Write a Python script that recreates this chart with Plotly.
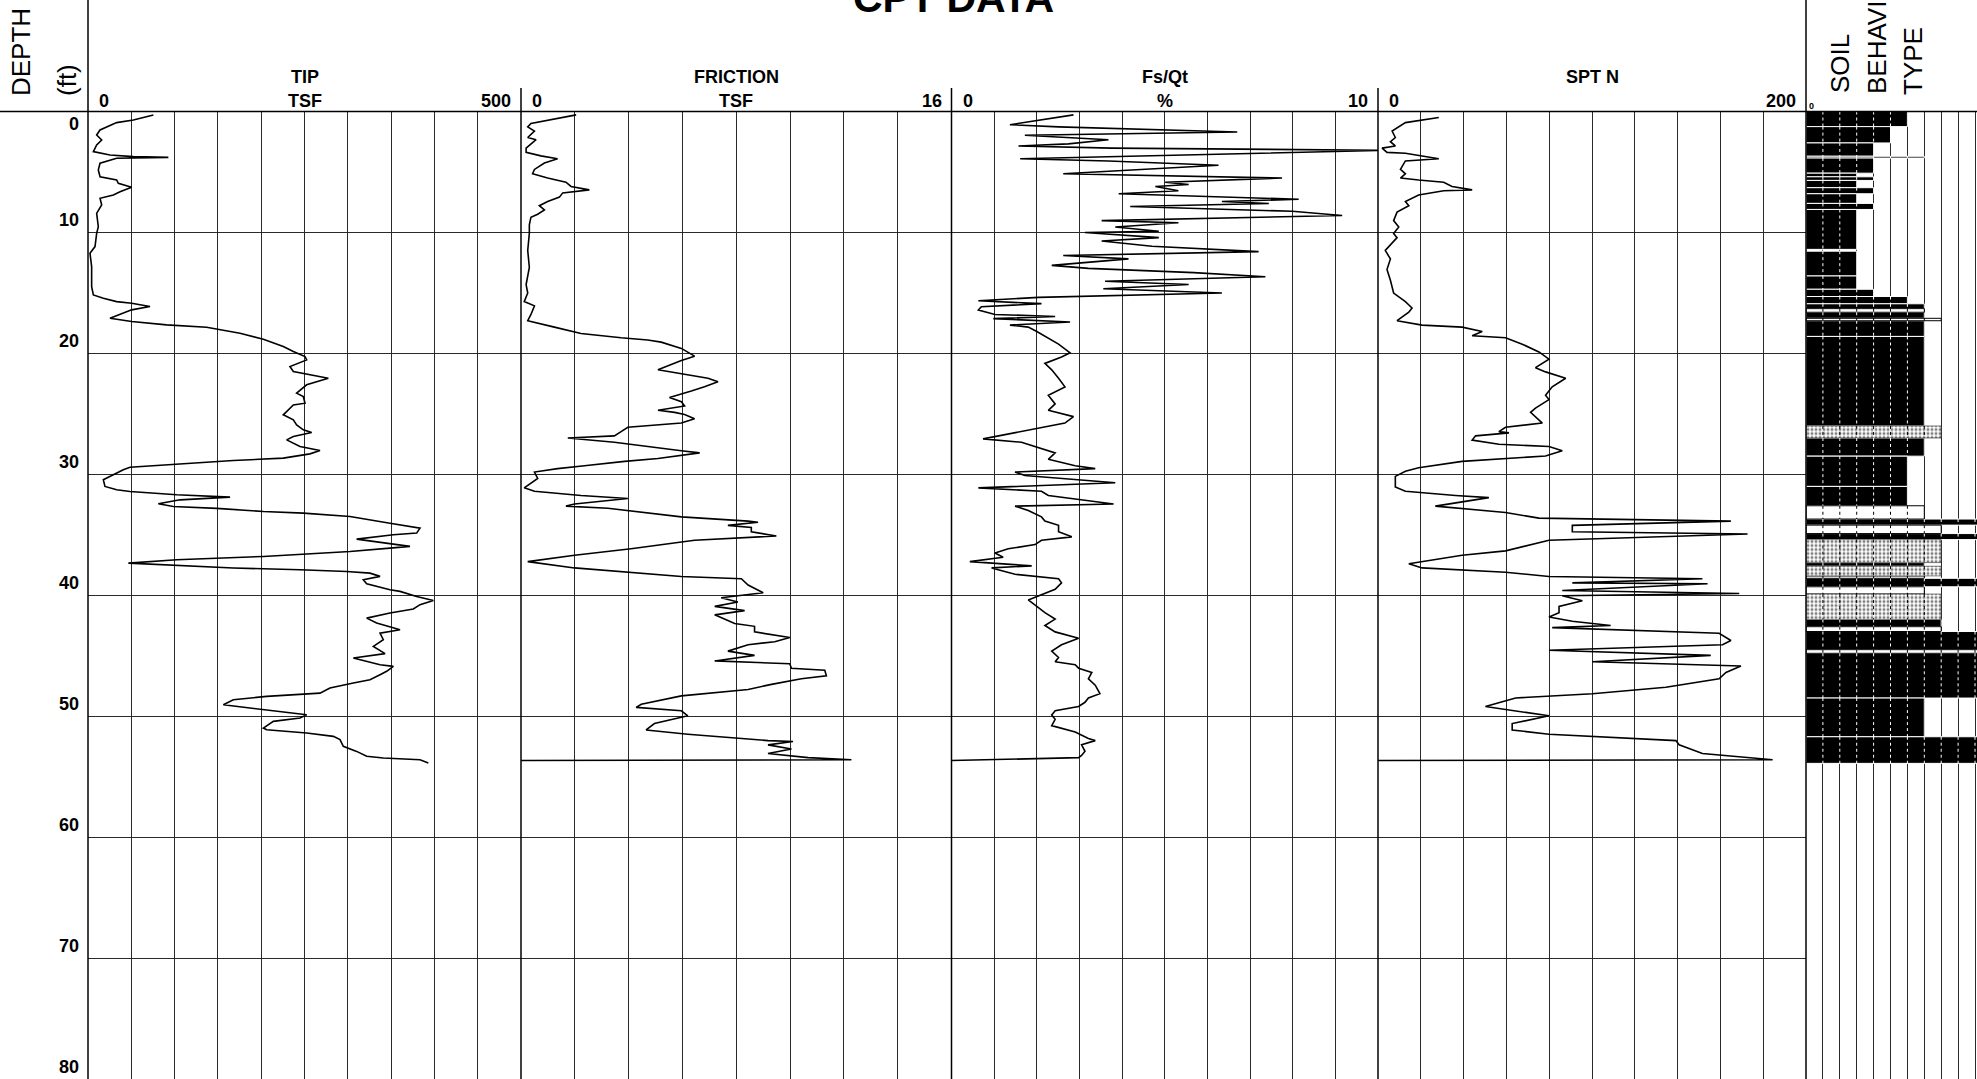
import plotly.graph_objects as go

# ---------------------------------------------------------------- data
TIP_DEPTH = [0.29, 0.70, 0.92, 1.53, 1.94, 2.36, 2.77, 3.32, 3.60, 3.73, 3.79, 3.87, 4.28, 4.83, 5.39,
             5.66, 5.94, 6.27, 6.63, 6.90, 7.18, 7.73, 8.42, 9.52, 10.07, 11.17, 11.72, 12.82, 14.48,
             15.17, 15.44, 15.72, 15.85, 16.13, 16.40, 17.09, 17.37, 17.64, 17.84, 18.33, 18.83, 19.44,
             19.85, 20.26, 20.54, 21.09, 21.50, 22.05, 22.60, 23.29, 23.57, 24.12, 24.26, 25.08, 25.50,
             25.91, 26.32, 26.54, 26.87, 27.15, 27.70, 28.03, 28.31, 28.66, 28.86, 29.21, 29.41, 29.63,
             30.04, 30.45, 31.00, 31.28, 31.42, 31.69, 31.89, 32.11, 32.44, 32.66, 32.82, 33.07, 33.21,
             33.49, 34.04, 34.45, 34.86, 35.00, 35.36, 35.69, 35.96, 36.10, 36.38, 36.79, 37.07, 37.34,
             37.53, 37.75, 37.89, 38.03, 38.17, 38.44, 38.72, 39.05, 39.55, 39.68, 40.10, 40.43, 40.78,
             41.14, 41.47, 41.89, 42.30, 42.85, 43.13, 43.68, 44.23, 44.83, 45.19, 45.47, 45.74, 45.88,
             46.29, 46.57, 46.98, 47.26, 47.67, 48.09, 48.36, 48.64, 49.05, 49.33, 49.88, 50.15, 50.43,
             50.98, 51.12, 51.39, 51.67, 51.94, 52.49, 52.91, 53.32, 53.46, 53.60, 53.87]
TIP_TSF = [75.5, 52.4, 33.1, 13.9, 10.0, 15.8, 10.0, 6.2, 25.4, 52.4, 92.8, 33.1, 13.9, 11.9, 13.9,
           33.1, 35.0, 50.4, 37.0, 29.3, 13.9, 15.8, 10.0, 11.9, 10.0, 8.1, 2.3, 4.2, 4.2,
           6.2, 17.7, 33.1, 50.4, 71.6, 50.4, 25.4, 50.4, 90.8, 137.0, 175.5, 202.5, 225.5,
           237.1, 250.6, 252.5, 233.2, 237.1, 277.5, 252.5, 240.9, 248.6, 250.6, 237.1, 225.5, 237.1,
           240.9, 248.6, 258.3, 237.1, 229.4, 244.8, 267.9, 256.3, 225.5, 167.8, 90.8, 48.5, 40.8,
           29.3, 17.7, 19.6, 33.1, 48.5, 102.4, 164.0, 106.2, 81.2, 98.5, 148.6, 202.5, 248.6,
           302.5, 348.7, 383.4, 379.5, 352.6, 310.2, 341.0, 371.8, 348.7, 302.5, 202.5, 102.4, 46.6,
           102.4, 167.8, 244.8, 298.7, 325.6, 337.2, 317.9, 321.8, 348.7, 360.3, 379.5, 398.8, 383.4,
           375.7, 348.7, 321.8, 333.3, 360.3, 337.2, 341.0, 329.5, 343.0, 306.4, 321.8, 337.2, 352.6,
           344.9, 337.2, 325.6, 306.4, 279.4, 267.9, 206.3, 167.8, 156.3, 187.0, 252.5, 244.8, 214.0,
           202.5, 206.3, 252.5, 283.3, 291.0, 294.8, 310.2, 321.8, 341.0, 383.4, 393.0]

FRIC_DEPTH = [0.28, 0.99, 1.27, 1.62, 2.15, 2.33, 3.03, 3.38, 3.67, 3.91, 4.26, 4.79, 5.15, 5.50, 5.85,
              6.20, 6.48, 6.73, 7.08, 7.44, 7.79, 8.14, 8.49, 8.74, 9.37, 10.08, 11.49, 12.90, 14.31,
              15.01, 15.72, 16.07, 16.78, 17.30, 17.83, 18.36, 18.71, 18.89, 19.07, 19.59, 20.23, 20.58,
              21.36, 21.71, 22.06, 22.34, 22.77, 23.12, 23.65, 24.00, 24.35, 24.70, 24.88, 25.06, 25.41,
              25.76, 26.11, 26.47, 26.82, 27.00, 27.35, 28.05, 28.23, 28.69, 28.93, 29.29, 29.53, 29.81,
              30.34, 31.12, 31.40, 31.75, 32.00, 32.46, 32.63, 32.81, 32.99, 33.52, 33.87, 33.97, 34.22,
              34.40, 34.75, 35.10, 35.45, 36.16, 36.69, 37.22, 37.74, 38.45, 38.63, 39.15, 39.79, 40.21,
              40.56, 40.92, 41.27, 41.62, 42.33, 42.57, 43.03, 43.49, 43.84, 44.09, 44.62, 44.97, 45.43,
              45.67, 46.03, 46.20, 46.66, 46.91, 47.37, 47.79, 48.32, 48.67, 49.02, 49.27, 49.55, 49.97,
              50.61, 51.14, 51.49, 52.02, 52.09, 52.37, 52.72, 53.08, 53.43, 53.60, 53.67]
FRIC_TSF = [2.05, 0.37, 0.25, 0.50, 0.25, 0.56, 0.19, 0.19, 0.74, 1.36, 0.87, 0.50, 0.43, 0.99, 1.67,
            1.86, 2.54, 1.55, 1.43, 0.99, 0.68, 0.87, 0.62, 0.37, 0.31, 0.31, 0.25, 0.31, 0.19,
            0.25, 0.12, 0.50, 0.37, 0.25, 1.24, 2.23, 3.72, 4.71, 5.21, 5.96, 6.45, 5.96,
            5.09, 5.96, 6.95, 7.32, 6.82, 6.33, 5.52, 5.96, 6.08, 5.09, 5.71, 6.08, 6.45,
            5.96, 3.97, 3.72, 3.47, 1.74, 3.47, 5.96, 6.64, 5.09, 3.85, 2.36, 1.36, 0.50,
            0.62, 0.12, 0.50, 2.23, 3.97, 1.99, 1.67, 3.23, 3.97, 5.96, 8.44, 8.81, 7.69,
            8.56, 8.56, 9.49, 6.45, 4.09, 1.99, 0.25, 1.99, 5.96, 8.19, 8.44, 9.00, 7.44,
            8.06, 7.20, 8.31, 7.20, 7.94, 8.68, 8.68, 9.99, 9.43, 8.44, 7.69, 8.68, 7.20,
            9.99, 10.05, 11.29, 11.35, 10.42, 9.31, 8.44, 5.96, 5.21, 4.47, 4.28, 5.96, 6.20,
            4.96, 4.65, 6.20, 9.18, 10.11, 9.18, 10.05, 9.18, 10.67, 12.28, 0.0]

RATIO_DEPTH = [0.28, 1.09, 1.27, 1.69, 1.97, 2.33, 2.68, 2.85, 3.03, 3.21, 3.91, 4.09, 4.44, 4.79, 5.15,
               5.50, 5.85, 6.03, 6.20, 6.55, 6.80, 7.26, 7.44, 7.61, 7.86, 8.25, 8.60, 9.02, 9.20,
               9.55, 9.90, 10.01, 10.43, 10.71, 11.14, 11.59, 11.91, 12.19, 12.48, 12.72, 12.97, 13.32,
               13.67, 14.03, 14.31, 14.66, 15.01, 15.37, 15.65, 15.89, 16.14, 16.42, 16.78, 16.95, 17.13,
               17.41, 17.66, 17.83, 18.19, 18.71, 19.24, 19.95, 20.30, 20.83, 21.36, 22.06, 22.77, 23.47,
               24.18, 24.71, 25.23, 25.76, 26.29, 26.64, 27.07, 27.35, 27.88, 28.23, 28.76, 29.29, 29.53,
               29.81, 30.10, 30.34, 30.70, 31.12, 31.40, 31.75, 32.11, 32.46, 32.63, 32.99, 33.52, 33.87,
               34.22, 34.75, 35.17, 35.45, 35.81, 36.16, 36.51, 36.86, 37.22, 37.57, 37.74, 38.27, 38.63,
               38.98, 39.51, 40.04, 40.39, 40.92, 41.44, 41.97, 42.50, 43.03, 43.56, 44.09, 44.62, 45.15,
               45.50, 45.74, 46.03, 46.38, 46.91, 47.44, 48.14, 48.49, 48.85, 49.20, 49.55, 49.90, 50.26,
               50.78, 51.31, 51.84, 52.02, 52.37, 52.90, 53.25, 53.43, 53.67]
RATIO_PCT = [2.86, 1.37, 2.51, 6.70, 1.72, 3.68, 2.74, 1.57, 3.76, 10.18, 1.61, 3.68, 6.26, 4.31, 2.62,
             7.75, 5.01, 5.56, 4.78, 5.32, 3.92, 8.14, 6.34, 7.44, 4.19, 7.99, 9.16, 3.52, 5.32,
             3.84, 4.86, 3.13, 4.86, 3.52, 4.70, 7.20, 2.62, 4.15, 3.05, 2.35, 3.21, 5.68,
             7.36, 3.60, 5.56, 3.56, 6.34, 2.04, 0.63, 2.11, 0.70, 0.63, 1.02, 2.43, 0.98,
             2.78, 1.37, 1.80, 2.00, 2.27, 2.51, 2.78, 2.58, 2.19, 2.35, 2.51, 2.66, 2.27,
             2.43, 2.27, 2.86, 2.66, 1.88, 1.41, 0.74, 1.64, 2.15, 2.43, 2.27, 2.90, 3.37,
             1.49, 1.72, 2.51, 3.84, 0.63, 2.11, 2.27, 3.05, 3.80, 1.49, 1.80, 2.11, 2.19,
             2.51, 2.51, 2.82, 2.11, 1.96, 1.33, 1.02, 1.21, 0.43, 1.88, 0.94, 1.49, 2.51,
             2.58, 2.43, 2.04, 1.80, 2.00, 2.19, 2.43, 2.19, 2.43, 2.98, 2.58, 2.35, 2.51,
             2.43, 2.90, 2.98, 3.29, 3.21, 3.37, 3.48, 3.21, 3.13, 2.98, 2.43, 2.35, 2.43,
             2.35, 2.90, 3.21, 3.37, 3.05, 3.13, 3.05, 2.98, 0.0]

SPT_DEPTH = [0.49, 0.92, 1.62, 2.15, 2.50, 2.85, 3.03, 3.38, 3.45, 3.91, 4.09, 4.79, 5.15, 5.50, 5.67,
             5.85, 6.20, 6.48, 6.55, 6.91, 7.44, 7.79, 8.32, 9.02, 9.55, 10.08, 10.43, 11.49, 12.19,
             13.07, 13.96, 15.01, 15.72, 16.25, 16.60, 17.30, 17.66, 17.83, 18.19, 18.54, 18.71, 19.24,
             19.88, 20.48, 21.18, 21.53, 22.06, 22.77, 23.47, 23.82, 24.53, 24.88, 25.76, 26.11, 26.47,
             26.57, 26.82, 27.17, 27.52, 27.70, 28.05, 28.48, 28.93, 29.46, 29.74, 30.17, 31.05, 31.40,
             31.75, 31.93, 32.63, 33.16, 33.62, 33.87, 34.22, 34.75, 34.93, 35.45, 36.33, 36.69, 37.39,
             37.74, 38.10, 38.45, 38.63, 38.98, 39.05, 39.61, 39.86, 40.04, 40.46, 40.92, 41.44, 41.80,
             42.15, 42.50, 42.68, 43.14, 43.74, 44.09, 44.55, 44.97, 45.50, 45.85, 46.38, 46.91, 47.61,
             48.14, 48.49, 49.20, 49.97, 50.61, 51.14, 51.49, 52.02, 52.37, 53.08, 53.43, 53.60, 53.67]
SPT_N = [28.4, 12.8, 6.6, 8.1, 5.8, 8.1, 1.9, 4.2, 12.8, 28.4, 12.8, 10.5, 12.8, 10.5, 19.0,
         30.7, 34.6, 44.0, 30.7, 19.0, 12.8, 14.4, 8.9, 7.3, 9.7, 7.3, 8.9, 3.4, 5.8,
         4.2, 5.8, 7.3, 12.8, 15.9, 14.4, 8.9, 20.6, 39.3, 48.7, 44.0, 59.6, 67.4,
         75.2, 79.9, 73.6, 78.3, 87.7, 81.4, 78.3, 79.9, 73.6, 71.3, 76.8, 59.6, 56.5,
         61.2, 45.6, 44.0, 56.5, 79.9, 86.1, 78.3, 39.3, 19.0, 12.8, 8.1, 8.1, 12.8,
         36.2, 51.8, 26.8, 59.6, 75.2, 164.9, 90.8, 90.8, 172.7, 79.9, 59.6, 39.3, 14.4,
         20.6, 59.6, 79.9, 151.6, 90.8, 154.0, 86.1, 168.8, 86.1, 95.5, 84.6, 84.6, 79.9,
         90.8, 108.7, 81.4, 159.4, 164.9, 161.0, 79.9, 155.5, 100.2, 169.6, 162.6, 159.4, 134.5,
         100.2, 64.3, 50.2, 79.9, 62.7, 62.7, 79.9, 139.2, 140.7, 151.6, 173.5, 184.4, 0.0]

# soil behaviour type log: layer top, layer base, zone number, fill style
SBT_TOP = [0.0, 1.25, 2.6, 3.7, 3.85, 5.1, 5.4, 5.7, 6.3, 6.8, 7.6, 8.1, 11.55, 13.6, 14.7, 15.3, 15.9,
           16.3, 16.6, 17.1, 17.3, 18.6, 26.0, 27.0, 28.5, 31.0, 32.6, 33.7, 34.2, 34.9, 35.4, 37.3,
           37.6, 38.4, 38.6, 39.3, 39.9, 42.0, 42.6, 43.0, 44.5, 44.8, 48.5, 51.7]
SBT_BASE = [1.25, 2.6, 3.7, 3.85, 5.1, 5.4, 5.7, 6.3, 6.8, 7.6, 8.1, 11.4, 13.6, 14.7, 15.3, 15.9, 16.3,
            16.6, 17.1, 17.3, 18.6, 26.0, 27.0, 28.5, 31.0, 32.6, 33.7, 34.2, 34.9, 35.4, 37.3, 37.6,
            38.4, 38.6, 39.3, 39.9, 42.0, 42.6, 43.0, 44.5, 44.8, 48.5, 51.7, 53.9]
SBT_ZONE = [6, 5, 4, 7, 4, 3, 4, 3, 4, 3, 4, 3, 3, 3, 4, 6, 7,
            7, 7, 8, 7, 7, 8, 7, 6, 6, 7, 12, 8, 12, 8, 7,
            8, 7, 12, 7, 8, 8, 8, 12, 12, 12, 7, 12]
SBT_FILL = ["solid", "solid", "solid", "solid", "solid", "solid", "solid", "solid", "solid", "solid",
            "solid", "solid", "solid", "solid", "solid", "solid", "solid",
            "blank", "solid", "blank", "solid", "solid", "speckle", "solid", "solid", "solid", "blank",
            "solid", "blank", "solid", "speckle", "solid",
            "speckle", "blank", "solid", "blank", "speckle", "solid", "blank", "solid", "blank", "solid",
            "solid", "solid"]

DEPTH_TICKS = [0, 10, 20, 30, 40, 50, 60, 70, 80]

# ---------------------------------------------------------------- layout geometry
W, H = 1977, 1079
FONT = "Liberation Sans, Arial, sans-serif"
GRID = "#2a2a2a"
Y_TOP = 111.5                       # pixel row of depth 0
EDGES = [88, 521, 951.5, 1378, 1806, 1977]
SBT_RANGE = (1977 - 1806) / 16.9   # visible width of the soil column in zone units


def fx(px):
    return px / W


def fy(py):
    return 1 - py / H


tracks = [
    dict(depth=TIP_DEPTH, val=TIP_TSF, rng=[0, 500], dtick=50),
    dict(depth=FRIC_DEPTH, val=FRIC_TSF, rng=[0, 16], dtick=2),
    dict(depth=RATIO_DEPTH, val=RATIO_PCT, rng=[0, 10], dtick=1),
    dict(depth=SPT_DEPTH, val=SPT_N, rng=[0, 200], dtick=20),
]

fig = go.Figure()
layout = {}
for i in range(5):
    s = "" if i == 0 else str(i + 1)
    if i < 4:
        rng, dtick = tracks[i]["rng"], tracks[i]["dtick"]
    else:
        rng, dtick = [0, SBT_RANGE], 1
    layout["xaxis" + s] = dict(domain=[fx(EDGES[i]), fx(EDGES[i + 1])], range=rng, dtick=dtick, tick0=0,
                               showgrid=True, gridcolor=GRID, gridwidth=1, zeroline=False,
                               showline=False, showticklabels=False, ticks="", anchor="y" + s,
                               fixedrange=True)
    layout["yaxis" + s] = dict(domain=[0, fy(Y_TOP)], range=[80, 0], dtick=10, tick0=0,
                               showgrid=(i < 4), gridcolor=GRID, gridwidth=1, zeroline=False,
                               showline=False, showticklabels=False, ticks="", anchor="x" + s,
                               fixedrange=True)

for i, t in enumerate(tracks):
    s = "" if i == 0 else str(i + 1)
    fig.add_trace(go.Scatter(x=t["val"], y=t["depth"], mode="lines", xaxis="x" + s, yaxis="y" + s,
                             line=dict(color="black", width=1.6), hoverinfo="skip", showlegend=False))

# ---------------------------------------------------------------- soil behaviour type column
styles = {
    "solid": dict(marker=dict(color="black", line=dict(color="white", width=1))),
    "blank": dict(marker=dict(color="white", line=dict(color="black", width=1))),
    "speckle": dict(marker=dict(color="white", line=dict(color="black", width=0.5),
                                pattern=dict(shape=".", fgcolor="black", bgcolor="white",
                                             size=4, solidity=0.45))),
}
for style, kw in styles.items():
    idx = [k for k, f in enumerate(SBT_FILL) if f == style]
    fig.add_trace(go.Bar(
        orientation="h",
        y=[(SBT_TOP[k] + SBT_BASE[k]) / 2 for k in idx],
        x=[SBT_ZONE[k] for k in idx],
        width=[SBT_BASE[k] - SBT_TOP[k] for k in idx],
        base=0, xaxis="x5", yaxis="y5", hoverinfo="skip", showlegend=False, **kw))

# zone dividers redrawn across the filled layers
white_x, white_y, dark_x, dark_y = [], [], [], []
for top, base, zone, fill in zip(SBT_TOP, SBT_BASE, SBT_ZONE, SBT_FILL):
    for c in range(1, min(zone, 11)):
        if fill == "solid":
            white_x += [c, c, None]
            white_y += [top, base, None]
        else:
            dark_x += [c, c, None]
            dark_y += [top, base, None]
fig.add_trace(go.Scatter(x=white_x, y=white_y, mode="lines", xaxis="x5", yaxis="y5",
                         line=dict(color="white", width=1, dash="dot"), hoverinfo="skip",
                         showlegend=False))
fig.add_trace(go.Scatter(x=dark_x, y=dark_y, mode="lines", xaxis="x5", yaxis="y5",
                         line=dict(color="black", width=1, dash="dot"), hoverinfo="skip",
                         showlegend=False))

# ---------------------------------------------------------------- frame lines
shapes = [
    dict(type="line", xref="paper", yref="paper", x0=0, x1=1, y0=fy(Y_TOP), y1=fy(Y_TOP),
         line=dict(color="black", width=1.5), layer="above"),
    dict(type="line", xref="paper", yref="paper", x0=fx(EDGES[0]), x1=fx(EDGES[0]), y0=0, y1=1,
         line=dict(color="black", width=1.5), layer="above"),
    dict(type="line", xref="paper", yref="paper", x0=fx(EDGES[4]), x1=fx(EDGES[4]), y0=0, y1=1,
         line=dict(color="black", width=1.5), layer="above"),
]
for e in EDGES[1:4]:
    shapes.append(dict(type="line", xref="paper", yref="paper", x0=fx(e), x1=fx(e), y0=0, y1=fy(88),
                       line=dict(color="black", width=1.5), layer="above"))

# ---------------------------------------------------------------- text
ann = []


def label(text, x, y, size=18, bold=True, xanchor="center", yanchor="middle", angle=0):
    ann.append(dict(text=("<b>%s</b>" % text) if bold else text, x=fx(x), y=fy(y), xref="paper",
                    yref="paper", showarrow=False, xanchor=xanchor, yanchor=yanchor, textangle=angle,
                    font=dict(family=FONT, size=size, color="black")))


titles = [("TIP", "TSF", "0", "500"), ("FRICTION", "TSF", "0", "16"), ("Fs/Qt", "%", "0", "10"),
          ("SPT N", "", "0", "200")]
for i, (name, unit, lo, hi) in enumerate(titles):
    cx = (EDGES[i] + EDGES[i + 1]) / 2
    label(name, cx, 77)
    if unit:
        label(unit, cx, 101)
    label(lo, EDGES[i] + 9, 101, xanchor="left")
    label(hi, EDGES[i + 1] - 8, 101, xanchor="right")

label("CPT DATA", 953, -2, size=41)
label("DEPTH", 21, 52, size=26, bold=False, angle=-90)
label("(ft)", 67, 80, size=26, bold=False, angle=-90)
label("SOIL", 1840, 64, size=26, bold=False, angle=-90)
label("BEHAVIOR", 1877, 28, size=26, bold=False, angle=-90)
label("TYPE", 1913, 61, size=26, bold=False, angle=-90)
label("0", 1811, 106, size=9)

for d in DEPTH_TICKS:
    ann.append(dict(text="<b>%d</b>" % d, x=fx(81), xref="paper", y=d, yref="y", showarrow=False,
                    xanchor="right", yanchor="middle", yshift=(-12 if d == 0 else 12),
                    font=dict(family=FONT, size=18, color="black")))

fig.update_layout(width=W, height=H, margin=dict(l=0, r=0, t=0, b=0), paper_bgcolor="white",
                  plot_bgcolor="white", barmode="overlay", showlegend=False, shapes=shapes,
                  annotations=ann, **layout)

fig.write_html("out.html")
